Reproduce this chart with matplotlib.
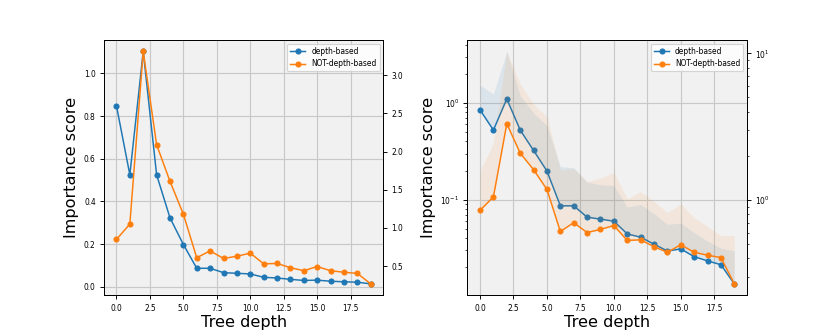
import matplotlib
matplotlib.use("Agg")
import matplotlib.pyplot as plt
import numpy as np

depth = list(range(20))
depth_based = [0.848, 0.525, 1.103, 0.525, 0.323, 0.198, 0.0865, 0.0865, 0.066, 0.063,
               0.060, 0.0443, 0.041, 0.0347, 0.0295, 0.031, 0.0258, 0.0233, 0.0213, 0.0135]
not_depth_based = [0.85, 1.05, 3.31, 2.09, 1.61, 1.18, 0.61, 0.70, 0.60, 0.63,
                   0.67, 0.53, 0.535, 0.48, 0.44, 0.495, 0.44, 0.42, 0.405, 0.268]
depth_based_upper = [1.53, 1.24, 3.41, 1.19, 0.79, 0.58, 0.22, 0.214, 0.152, 0.143,
                     0.140, 0.084, 0.089, 0.0717, 0.0556, 0.0574, 0.0455, 0.0375, 0.0315, 0.0297]
not_depth_based_upper = [1.58, 2.45, 10.3, 6.2, 4.5, 3.7, 1.6, 1.64, 1.34, 1.41,
                         1.54, 1.02, 1.14, 0.978, 0.823, 0.94, 0.761, 0.658, 0.571, 0.571]

labels = ["depth-based", "NOT-depth-based"]
xlabel = "Tree depth"
ylabel = "Importance score"

BLUE = "#1f77b4"
ORANGE = "#ff7f0e"
FACE = "#f1f1f1"

fig, axes = plt.subplots(1, 2, figsize=(10, 4), dpi=83)
fig.subplots_adjust(left=0.125, right=0.9, bottom=0.11, top=0.88, wspace=0.3)

for i, ax in enumerate(axes):
    ax.set_facecolor(FACE)
    ax.grid(True, color="#c8c8c8", linewidth=1.0)
    ax.set_axisbelow(True)
    tw = ax.twinx()
    if i == 1:
        ax.set_yscale("log")
        tw.set_yscale("log")
        ax.fill_between(depth, depth_based, depth_based_upper, color=BLUE, alpha=0.1, linewidth=0)
        tw.fill_between(depth, not_depth_based, not_depth_based_upper, color=ORANGE, alpha=0.09, linewidth=0)
    l1, = ax.plot(depth, depth_based, "-o", color=BLUE, markersize=4.3, linewidth=1.3, label=labels[0])
    l2, = tw.plot(depth, not_depth_based, "-o", color=ORANGE, markersize=4.3, linewidth=1.3, label=labels[1])
    ax.set_xlabel(xlabel, fontsize=14, labelpad=2)
    ax.set_ylabel(ylabel, fontsize=14)
    ax.tick_params(labelsize=6.5)
    tw.tick_params(labelsize=6.5)
    tw.legend([l1, l2], labels, loc="upper right", fontsize=6.5)

fig.savefig("out.png", dpi=83)
